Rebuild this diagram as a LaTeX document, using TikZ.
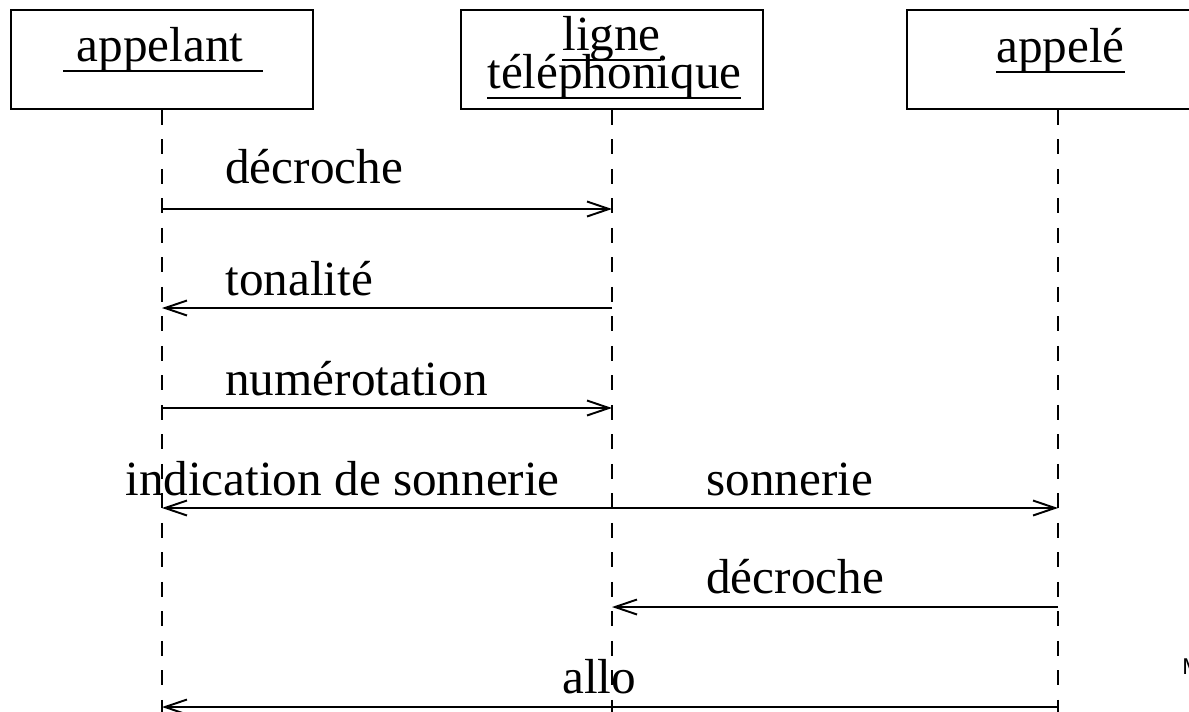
\documentclass[tikz,border=0pt]{standalone}
\usepackage{fontspec}
\setmainfont{Liberation Serif}
\setsansfont{Liberation Sans}
\usetikzlibrary{arrows.meta}

\newsavebox\soulbox
\newcommand{\souligne}[1]{\sbox\soulbox{#1}\rlap{\rule[-0.22em]{\wd\soulbox}{1.1pt}}\usebox\soulbox}

\tikzset{
  objet/.style={draw, line width=1.1pt, rectangle, inner sep=0pt,
    minimum width=6.04cm, minimum height=1.98cm},
  texte/.style={inner sep=0pt, anchor=base west, font=\fontsize{28}{32}\selectfont},
  vie/.style={line width=1.1pt, dash pattern=on 0.3cm off 0.29cm},
  msg/.style={line width=1.1pt, -{Straight Barb[length=0.44cm,width=0.3cm,line width=1.1pt]}}
}

\begin{document}
\begin{tikzpicture}[x=0.02cm,y=-0.02cm]
  \useasboundingbox (0,0) rectangle (1189,711);
  \clip (0,0) rectangle (1189,711);

  % Drawing object boxes
  \node[objet] (appelant) at (162,59.5) {};
  \node[objet] (ligne) at (612,59.5) {};
  \node[objet] (appele) at (1058,59.5) {};

  % Marking object names
  \node[texte] (nomA) at (63,61) {\souligne{\hspace{0.27em}appelant\hspace{0.4em}}};
  \node[texte] (nomL1) at (562,50) {\souligne{ligne}};
  \node[texte] (nomL2) at (487,88) {\souligne{téléphonique}};
  \node[texte] (nomB) at (996,62) {\souligne{appelé}};

  % Drawing life lines
  \draw[vie] (appelant.south) -- (appelant.south |- 0,715);
  \draw[vie] (ligne.south) -- (ligne.south |- 0,715);
  \draw[vie] (appele.south) -- (appele.south |- 0,715);

  % Marking message labels
  \node[texte] (m1) at (225,183) {décroche};
  \node[texte] (m2) at (225,295) {tonalité};
  \node[texte] (m3) at (225,395) {numérotation};
  \node[texte] (m4) at (125,495) {indication de sonnerie};
  \node[texte] (m5) at (706,495) {sonnerie};
  \node[texte] (m6) at (706,593) {décroche};
  \node[texte] (m7) at (562,693) {allo};

  % Drawing messages
  \draw[msg] (appelant.south |- 0,209) -- (ligne.south |- 0,209);
  \draw[msg] (ligne.south |- 0,308) -- (appelant.south |- 0,308);
  \draw[msg] (appelant.south |- 0,408) -- (ligne.south |- 0,408);
  \draw[msg] (ligne.south |- 0,508) -- (appelant.south |- 0,508);
  \draw[msg] (ligne.south |- 0,508) -- (appele.south |- 0,508);
  \draw[msg] (appele.south |- 0,607) -- (ligne.south |- 0,607);
  \draw[msg] (appele.south |- 0,707) -- (appelant.south |- 0,707);

  % Marking cut-off letter at the border
  \node[inner sep=0pt, anchor=base west, font=\sffamily\fontsize{13}{15}\selectfont] (bord) at (1182,674) {M};
\end{tikzpicture}
\end{document}
